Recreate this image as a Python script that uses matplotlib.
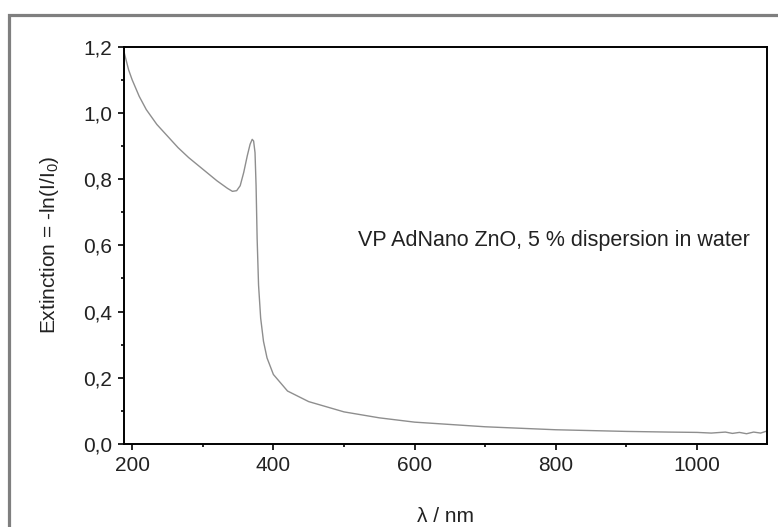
#!/usr/bin/env python3
"""
Extinction spectrum of VP AdNano ZnO dispersion (5 % in water).
"""

import matplotlib
matplotlib.use('Agg')
import matplotlib.pyplot as plt
from matplotlib.patches import Rectangle
from matplotlib.ticker import MultipleLocator, FuncFormatter

# wavelength (nm) and extinction
wavelength = [189, 195, 200, 210, 220, 235, 250, 265, 280, 300, 320, 335,
              342, 348, 353, 358, 363, 367, 370, 372, 374, 375.5, 377, 379,
              382, 386, 391, 400, 420, 450, 500, 550, 600, 700, 800, 900,
              960, 1000, 1020, 1040, 1050, 1060, 1070, 1080, 1090, 1100]
extinction = [1.18, 1.13, 1.10, 1.05, 1.01, 0.965, 0.93, 0.895, 0.865,
              0.83, 0.795, 0.772, 0.763, 0.765, 0.78, 0.82, 0.87, 0.905,
              0.92, 0.915, 0.88, 0.78, 0.62, 0.48, 0.38, 0.31, 0.26, 0.21,
              0.16, 0.128, 0.097, 0.079, 0.066, 0.052, 0.043, 0.038, 0.036,
              0.035, 0.033, 0.036, 0.032, 0.035, 0.031, 0.036, 0.033, 0.040]

x_label = "λ / nm"
y_label = "Extinction = -ln(I/I$_0$)"
note = "VP AdNano ZnO, 5 % dispersion in water"

plt.rcParams['font.family'] = ['Liberation Sans', 'DejaVu Sans']
plt.rcParams['mathtext.fontset'] = 'custom'
plt.rcParams['mathtext.rm'] = 'Liberation Sans'
plt.rcParams['mathtext.it'] = 'Liberation Sans'

TEXT_COLOR = '#222222'
FS = 15

fig = plt.figure(figsize=(7.78, 5.27), dpi=100)
ax = fig.add_axes([0.1594, 0.1575, 0.8265, 0.754])

# grey frame around the whole picture (open to the right/bottom)
fig.patches.append(Rectangle((8.5 / 778, -0.2), 1.3, 1.2 - 14.5 / 527,
                             transform=fig.transFigure, fill=False,
                             edgecolor='#7f7f7f', linewidth=2.3,
                             clip_on=False))

ax.plot(wavelength, extinction, color='#8e8e8e', linewidth=1.0)

ax.set_xlim(188.5, 1099)
ax.set_ylim(0, 1.2)
ax.xaxis.set_major_locator(MultipleLocator(200))
ax.xaxis.set_minor_locator(MultipleLocator(100))
ax.yaxis.set_major_locator(MultipleLocator(0.2))
ax.yaxis.set_minor_locator(MultipleLocator(0.1))
ax.yaxis.set_major_formatter(FuncFormatter(lambda v, p: f"{v:.1f}".replace('.', ',')))

for side in ax.spines.values():
    side.set_linewidth(1.4)
    side.set_color('black')
ax.tick_params(which='major', direction='out', length=4.5, width=1.2,
               labelsize=FS, labelcolor=TEXT_COLOR, pad=4)
ax.tick_params(which='minor', direction='out', length=2.5, width=1.2)

ax.set_xlabel(x_label, fontsize=FS, color=TEXT_COLOR, labelpad=23)
ax.set_ylabel(y_label, fontsize=FS, color=TEXT_COLOR, labelpad=16)

ax.text(1075, 0.616, note, fontsize=15.5, color=TEXT_COLOR,
        ha='right', va='center')

fig.savefig("out.png", dpi=100)
